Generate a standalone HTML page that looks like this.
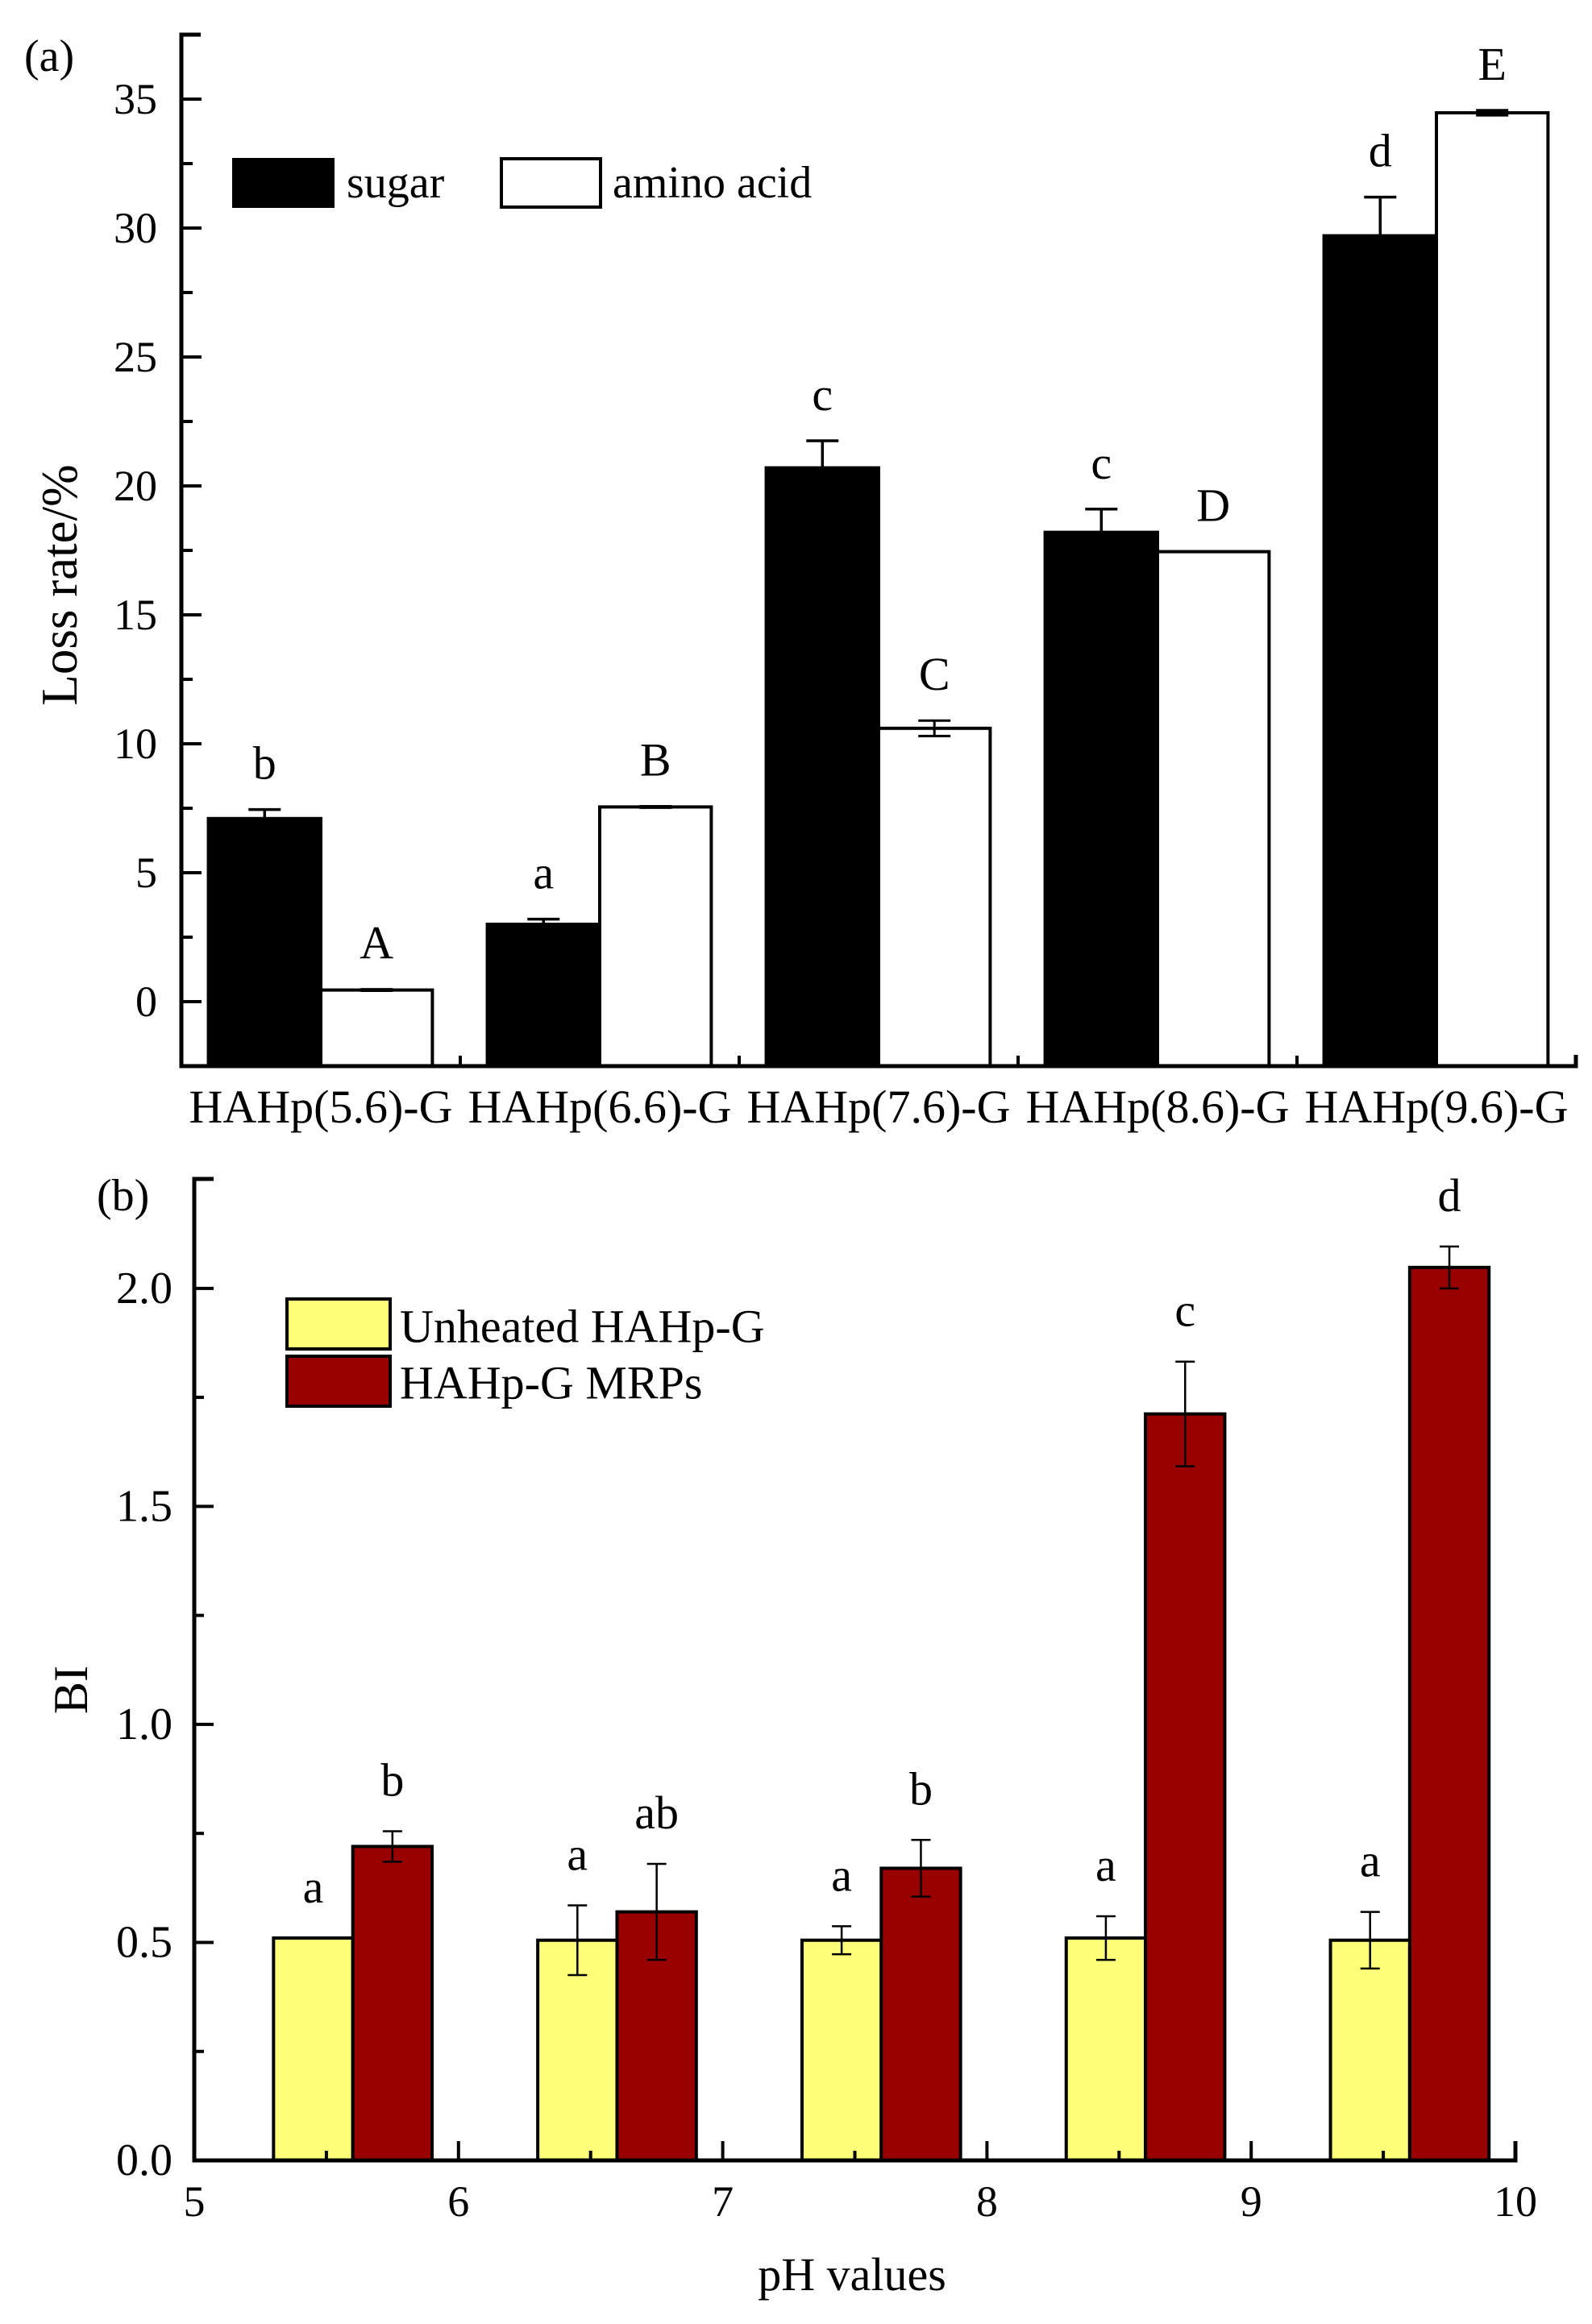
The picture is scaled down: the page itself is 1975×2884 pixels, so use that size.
<!DOCTYPE html>
<html><head><meta charset="utf-8"><style>
html,body{margin:0;padding:0;background:#fff;}
svg{display:block;font-family:"Liberation Serif",serif;}
</style></head><body>
<svg id="fig" xmlns="http://www.w3.org/2000/svg" width="1975" height="2884" viewBox="0 0 1975 2884">
<rect x="0" y="0" width="1975" height="2884" fill="#fff"/>
<g id="pa"></g>
<g id="pb"></g>
</svg>
<script>
// ---- Panel (a) data ----
const catsA = ["HAHp(5.6)-G","HAHp(6.6)-G","HAHp(7.6)-G","HAHp(8.6)-G","HAHp(9.6)-G"];
const sugarVals = [7.1, 3.0, 20.7, 18.2, 29.7];
const sugarErr = [0.35, 0.2, 1.05, 0.9, 1.5];
const sugarLetters = ["b","a","c","c","d"];
const aminoVals = [0.45, 7.55, 10.6, 17.45, 34.47];
const aminoErr = [0.03, 0.03, 0.3, 0, 0.1];
const aminoLetters = ["A","B","C","D","E"];
const yTicksA = [0,5,10,15,20,25,30,35];

// ---- Panel (b) data ----
const phCenters = [5.6, 6.6, 7.6, 8.6, 9.6];
const unheatedVals = [0.51, 0.505, 0.505, 0.51, 0.505];
const unheatedErr = [0, 0.08, 0.032, 0.05, 0.065];
const unheatedLetters = ["a","a","a","a","a"];
const mrpVals = [0.72, 0.57, 0.67, 1.712, 2.048];
const mrpErr = [0.035, 0.11, 0.065, 0.12, 0.048];
const mrpLetters = ["b","ab","b","c","d"];
const yTicksB = [0.0,0.5,1.0,1.5,2.0];
const xTicksB = [5,6,7,8,9,10];

const NS = "http://www.w3.org/2000/svg";
function mk(parent, tag, attrs, text){
  const e = document.createElementNS(NS, tag);
  for (const k in attrs) e.setAttribute(k, attrs[k]);
  if (text !== undefined) e.textContent = text;
  parent.appendChild(e);
  return e;
}

// ===== Panel A =====
(function(){
  const g = document.getElementById('pa');
  const X0 = 225, X1 = 1955, Y0 = 1323, YTOP = 43;
  const yMin = -2.5, yMax = 37.5;
  const ya = v => Y0 - (v - yMin) / (yMax - yMin) * (Y0 - YTOP);
  const gw = (X1 - X0) / catsA.length;
  const gx = i => X0 + gw * i;

  for (let i = 0; i < catsA.length; i++) {
    const xs = gx(i) + gw*0.097, xm = gx(i) + gw*0.5, xe = gx(i) + gw*0.9;
    let r = mk(g,'rect',{x:xs,y:ya(sugarVals[i]),width:xm-xs,height:Y0-ya(sugarVals[i]),fill:'#000',stroke:'#000','stroke-width':4});
    
    
    r = mk(g,'rect',{x:xm,y:ya(aminoVals[i]),width:xe-xm,height:Y0-ya(aminoVals[i]),fill:'#fff',stroke:'#000','stroke-width':4});
    
    
    const cs = (xs+xm)/2, ca = (xm+xe)/2;
    [[cs,sugarVals[i],sugarErr[i],'sugar'],[ca,aminoVals[i],aminoErr[i],'amino']].forEach(([cx,v,e,nm])=>{
      if (e <= 0) return;
      const eg = mk(g,'g',{stroke:'#000','stroke-width':nm==='sugar'?3.5:3});
      
      
      mk(eg,'line',{x1:cx,x2:cx,y1:ya(v+e),y2:ya(v-e)});
      mk(eg,'line',{x1:cx-20,x2:cx+20,y1:ya(v+e),y2:ya(v+e)});
      mk(eg,'line',{x1:cx-20,x2:cx+20,y1:ya(v-e),y2:ya(v-e)});
    });
    let t = mk(g,'text',{x:cs,y:ya(sugarVals[i]+sugarErr[i])-38,'font-size':58,'text-anchor':'middle'},sugarLetters[i]);
    
    
    t = mk(g,'text',{x:ca,y:ya(aminoVals[i]+aminoErr[i])-38,'font-size':58,'text-anchor':'middle'},aminoLetters[i]);
    
    
    t = mk(g,'text',{x:gx(i)+gw/2,y:1393,'font-size':58,'text-anchor':'middle'},catsA[i]);
    
    
  }
  const ax = mk(g,'path',{d:`M${X0+24} ${YTOP} H${X0} V${Y0} H${X1} V${Y0-14}`,fill:'none',stroke:'#000','stroke-width':5});
  
  
  for (let i = 1; i < catsA.length; i++) mk(g,'line',{x1:gx(i),x2:gx(i),y1:Y0,y2:Y0-13,stroke:'#000','stroke-width':4});
  for (let v = -2.5; v <= 37.5; v += 2.5) {
    const major = yTicksA.includes(v);
    mk(g,'line',{x1:X0,x2:X0+(major?25:14),y1:ya(v),y2:ya(v),stroke:'#000','stroke-width':4});
  }
  yTicksA.forEach(v=>{
    const t = mk(g,'text',{x:195,y:ya(v)+18,'font-size':54,'text-anchor':'end'},String(v));
    
    
  });
  let t = mk(g,'text',{x:0,y:0,'font-size':63,'text-anchor':'middle',transform:'translate(95,726) rotate(-90)'},'Loss rate/%');
  
  
  t = mk(g,'text',{x:30,y:88,'font-size':56},'(a)');
  
  
  const lg = mk(g,'g',{});
  
  
  mk(lg,'rect',{x:288,y:196,width:127,height:62,fill:'#000'});
  mk(lg,'text',{x:430,y:245,'font-size':56},'sugar');
  mk(lg,'rect',{x:622,y:197,width:123,height:60,fill:'#fff',stroke:'#000','stroke-width':4});
  mk(lg,'text',{x:760,y:245,'font-size':56},'amino acid');
})();

// ===== Panel B =====
(function(){
  const g = document.getElementById('pb');
  const X0 = 241, X1 = 1880, Y0 = 2681, YTOP = 1463;
  const xMin = 5, xMax = 10, yMin = 0, yMax = 2.251;
  const xb = v => X0 + (v - xMin) / (xMax - xMin) * (X1 - X0);
  const yb = v => Y0 - (v - yMin) / (yMax - yMin) * (Y0 - YTOP);
  const bw = 0.3;
  for (let i = 0; i < phCenters.length; i++) {
    const c = phCenters[i];
    let r = mk(g,'rect',{x:xb(c-bw),y:yb(unheatedVals[i]),width:xb(c)-xb(c-bw),height:Y0-yb(unheatedVals[i]),fill:'#FFFF7A',stroke:'#000','stroke-width':4});
    
    
    r = mk(g,'rect',{x:xb(c),y:yb(mrpVals[i]),width:xb(c+bw)-xb(c),height:Y0-yb(mrpVals[i]),fill:'#990000',stroke:'#000','stroke-width':4});
    
    
    [[xb(c-bw/2),unheatedVals[i],unheatedErr[i],'unheated',unheatedLetters[i]],[xb(c+bw/2),mrpVals[i],mrpErr[i],'mrp',mrpLetters[i]]].forEach(([cx,v,e,nm,L])=>{
      if (e > 0) {
        const eg = mk(g,'g',{stroke:'#000','stroke-width':2.5});
        
        
        mk(eg,'line',{x1:cx,x2:cx,y1:yb(v+e),y2:yb(v-e)});
        mk(eg,'line',{x1:cx-12,x2:cx+12,y1:yb(v+e),y2:yb(v+e)});
        mk(eg,'line',{x1:cx-12,x2:cx+12,y1:yb(v-e),y2:yb(v-e)});
      }
      const t = mk(g,'text',{x:cx,y:yb(v+e)-44,'font-size':58,'text-anchor':'middle'},L);
      
      
    });
  }
  const ax = mk(g,'path',{d:`M${X0+24} ${YTOP} H${X0} V${Y0} H${X1} V${Y0-24}`,fill:'none',stroke:'#000','stroke-width':5});
  
  
  for (let v = 5; v <= 10.01; v += 0.5) {
    const major = Math.abs(v - Math.round(v)) < 1e-6;
    mk(g,'line',{x1:xb(v),x2:xb(v),y1:Y0,y2:Y0-(major?24:12),stroke:'#000','stroke-width':4});
  }
  for (let v = 0; v <= 2.26; v += 0.25) {
    const major = Math.abs(v*2 - Math.round(v*2)) < 1e-6;
    mk(g,'line',{x1:X0,x2:X0+(major?24:12),y1:yb(v),y2:yb(v),stroke:'#000','stroke-width':4});
  }
  yTicksB.forEach(v=>{
    const t = mk(g,'text',{x:214,y:yb(v)+18,'font-size':56,'text-anchor':'end'},v.toFixed(1));
    
    
  });
  xTicksB.forEach(v=>{
    const t = mk(g,'text',{x:xb(v),y:2750,'font-size':54,'text-anchor':'middle'},String(v));
    
    
  });
  let t = mk(g,'text',{x:1057,y:2842,'font-size':58,'text-anchor':'middle'},'pH values');
  
  
  t = mk(g,'text',{x:0,y:0,'font-size':60,'text-anchor':'middle',transform:'translate(108,2097) rotate(-90)'},'BI');
  
  
  t = mk(g,'text',{x:120,y:1502,'font-size':56},'(b)');
  
  
  const lg = mk(g,'g',{});
  
  
  mk(lg,'rect',{x:356,y:1612,width:128,height:62,fill:'#FFFF7A',stroke:'#000','stroke-width':4});
  mk(lg,'text',{x:496,y:1652,'font-size':58,'dominant-baseline':'middle'},'Unheated HAHp-G');
  mk(lg,'rect',{x:356,y:1683,width:128,height:62,fill:'#990000',stroke:'#000','stroke-width':4});
  mk(lg,'text',{x:496,y:1722,'font-size':58,'dominant-baseline':'middle'},'HAHp-G MRPs');
})();
</script>
</body></html>
